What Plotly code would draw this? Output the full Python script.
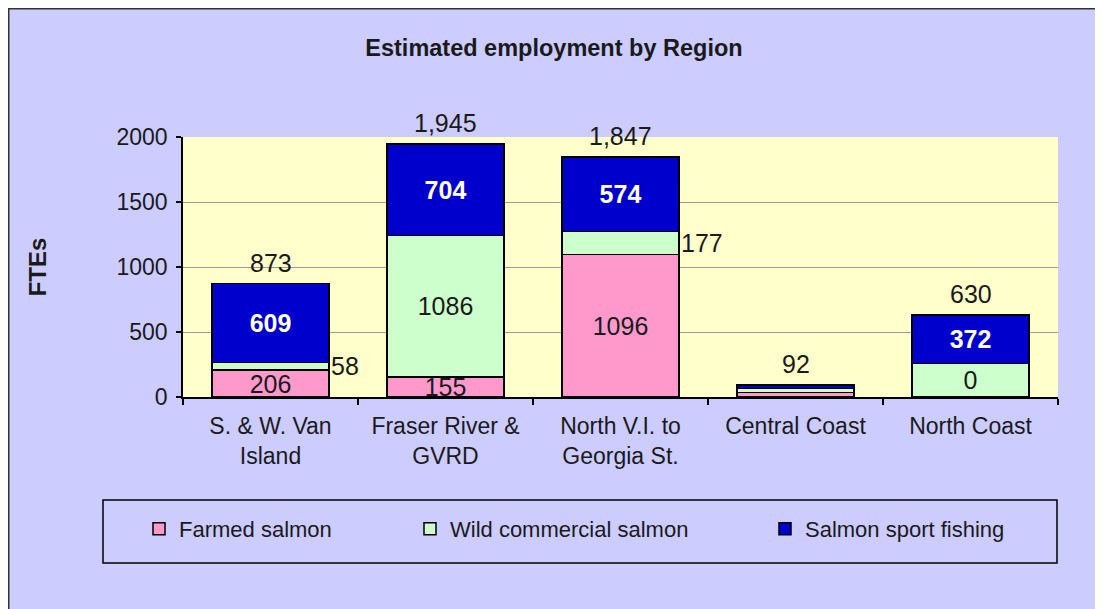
import plotly.graph_objects as go

# ---- data ----
regions = ["S. & W. Van<br>Island", "Fraser River &<br>GVRD", "North V.I. to<br>Georgia St.",
           "Central Coast", "North Coast"]
farmed = [206, 155, 1096, 35, 0]
wild = [58, 1086, 177, 30, 258]
sport = [609, 704, 574, 27, 372]
totals = [873, 1945, 1847, 92, 630]
farmed_labels = ["206", "155", "1096", "", ""]
wild_labels = ["", "1086", "", "", "0"]
sport_labels = ["609", "704", "574", "", "372"]
wild_side_labels = ["58", "", "177", "", ""]
series_names = ["Farmed salmon", "Wild commercial salmon", "Salmon sport fishing"]
y_ticks = [0, 500, 1000, 1500, 2000]

# ---- layout geometry (pixels, figure coordinates) ----
W, H = 1103, 609
ML, MR, MT, MB = 175, 53, 129, 220
PW = W - ML - MR
PH = H - MT - MB


def px_x(p):
    return (p - ML) / PW


def px_y(p):
    return (H - MB - p) / PH


FONT = "Liberation Sans, Arial, sans-serif"
TXT = "#1a1a1a"
colors = ["#FF99CC", "#CCFFCC", "#0000CC"]

fig = go.Figure()
for vals, labels, name, col, lg in [
    (farmed, farmed_labels, series_names[0], colors[0], "legend"),
    (wild, wild_labels, series_names[1], colors[1], "legend2"),
    (sport, sport_labels, series_names[2], colors[2], "legend3"),
]:
    is_blue = col == colors[2]
    fig.add_trace(go.Bar(
        x=regions, y=vals, name=name, text=labels,
        textposition="inside", insidetextanchor="middle", constraintext="none",
        textangle=0,
        textfont=dict(family=FONT, size=25, color="white" if is_blue else TXT,
                      weight="bold" if is_blue else "normal"),
        marker=dict(color=col, line=dict(color="black", width=1.5)),
        legend=lg,
    ))

annotations = []
for r, t in zip(regions, totals):
    annotations.append(dict(x=r, y=t, text=f"{t:,}", showarrow=False, yanchor="bottom",
                            yshift=5, font=dict(family=FONT, size=25, color=TXT)))
for r, f, w, s in zip(regions, farmed, wild, wild_side_labels):
    if s:
        annotations.append(dict(x=r, y=f + w / 2, text=s, showarrow=False, xanchor="left",
                                yanchor="middle", xshift=58,
                                font=dict(family=FONT, size=25, color=TXT)))

shapes = [
    # legend box
    dict(type="rect", xref="paper", yref="paper", x0=px_x(95), x1=px_x(1049),
         y0=px_y(492), y1=px_y(555), line=dict(color="black", width=1.5),
         fillcolor="rgba(0,0,0,0)", layer="above"),
    # outer frame lines
    dict(type="line", xref="paper", yref="paper", x0=px_x(0), x1=px_x(W + 5),
         y0=px_y(0.75), y1=px_y(0.75), line=dict(color="#333333", width=1.5)),
    dict(type="line", xref="paper", yref="paper", x0=px_x(0.75), x1=px_x(0.75),
         y0=px_y(0), y1=px_y(H + 5), line=dict(color="#333333", width=1.5)),
]

legend_common = dict(orientation="h", yanchor="middle", xanchor="left", y=px_y(521),
                     bgcolor="rgba(0,0,0,0)", borderwidth=0,
                     font=dict(family=FONT, size=22, color=TXT))

fig.update_layout(
    width=W, height=H,
    margin=dict(l=ML, r=MR, t=MT, b=MB, autoexpand=False),
    paper_bgcolor="#CCCCFF",
    plot_bgcolor="#FFFFCC",
    barmode="stack",
    bargap=0.33,
    title=dict(text="<b>Estimated employment by Region</b>", x=0.495, xref="container",
               xanchor="center", y=1 - 40 / H, yanchor="middle",
               font=dict(family=FONT, size=23.5, color=TXT)),
    font=dict(family=FONT, color=TXT),
    xaxis=dict(showline=True, linecolor="black", linewidth=1.5, ticks="outside",
               tickson="boundaries", ticklen=6, tickcolor="black", tickwidth=1.5,
               ticklabelstandoff=8,
               tickfont=dict(family=FONT, size=23, color=TXT), showgrid=False),
    yaxis=dict(range=[0, 2000], tickvals=y_ticks, showline=True, linecolor="black",
               linewidth=1.5, ticks="outside", ticklen=5, tickcolor="black", tickwidth=1.5,
               ticklabelstandoff=4,
               tickfont=dict(family=FONT, size=23, color=TXT), showgrid=True,
               gridcolor="#9a9a9a", gridwidth=1, zeroline=False,
               title=dict(text="<b>FTEs</b>", standoff=63,
                          font=dict(family=FONT, size=24, color=TXT))),
    legend=dict(legend_common, x=px_x(131)),
    legend2=dict(legend_common, x=px_x(402)),
    legend3=dict(legend_common, x=px_x(757)),
    annotations=annotations,
    shapes=shapes,
    showlegend=True,
)

fig.write_html("out.html")
